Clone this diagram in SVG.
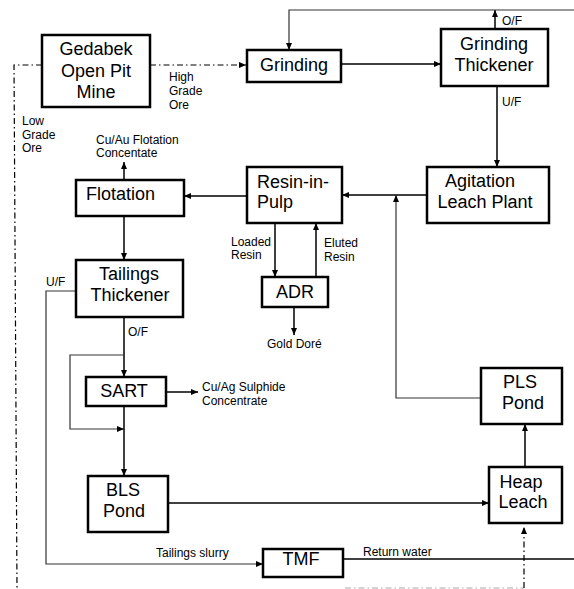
<svg xmlns="http://www.w3.org/2000/svg" width="574" height="589" viewBox="0 0 574 589">
<defs>
<marker id="arr" markerUnits="userSpaceOnUse" markerWidth="7" markerHeight="6" refX="7" refY="3" orient="auto">
<path d="M0,0 L7,3 L0,6 z" fill="#000"/>
</marker>
<style>
.box{fill:#fff;stroke:#000;stroke-width:2.5}
.big{font-family:"Liberation Sans",Arial,sans-serif;font-size:18px;fill:#000}
.sm{font-family:"Liberation Sans",Arial,sans-serif;font-size:12px;fill:#000}
.c{text-anchor:middle}
.ln{fill:none;stroke:#000;stroke-width:1.5}
.thin{fill:none;stroke:#333;stroke-width:1.2}
.dd{fill:none;stroke:#000;stroke-width:1.2;stroke-dasharray:6 3 1.5 3}
.ddl{fill:none;stroke:#aaa;stroke-width:1.2;stroke-dasharray:6 3 1.5 3}
</style>
</defs>
<rect width="574" height="589" fill="#fff"/>
<g id="connectors">
<polyline class="dd" points="42,65 14,65 17,589"/>
<line class="dd" x1="150" y1="65" x2="246" y2="65" marker-end="url(#arr)"/>
<line class="ln" x1="341" y1="64" x2="441" y2="64" marker-end="url(#arr)"/>
<line class="ln" x1="495" y1="29" x2="495" y2="10" marker-end="url(#arr)"/>
<polyline class="thin" points="574,10 289,10 289,50" marker-end="url(#arr)"/>
<line class="ln" x1="497" y1="86" x2="497" y2="167" marker-end="url(#arr)"/>
<line class="ln" x1="427" y1="195" x2="342" y2="195" marker-end="url(#arr)"/>
<polyline class="thin" points="481,398 396,398 396,195" marker-end="url(#arr)"/>
<line class="ln" x1="247" y1="196" x2="184" y2="196" marker-end="url(#arr)"/>
<line class="ln" x1="124" y1="180" x2="124" y2="162" marker-end="url(#arr)"/>
<line class="ln" x1="124" y1="216" x2="124" y2="260" marker-end="url(#arr)"/>
<line class="ln" x1="275" y1="223" x2="275" y2="277" marker-end="url(#arr)"/>
<line class="ln" x1="316" y1="277" x2="316" y2="223" marker-end="url(#arr)"/>
<line class="ln" x1="294" y1="307" x2="294" y2="335" marker-end="url(#arr)"/>
<line class="ln" x1="124" y1="317" x2="124" y2="377" marker-end="url(#arr)"/>
<polyline class="thin" points="124,355 70,355 70,429 124,429" marker-end="url(#arr)"/>
<line class="ln" x1="166" y1="392" x2="198" y2="392" marker-end="url(#arr)"/>
<line class="ln" x1="124" y1="406" x2="124" y2="476" marker-end="url(#arr)"/>
<line class="ln" x1="168" y1="503" x2="489" y2="503" marker-end="url(#arr)"/>
<line class="ln" x1="525" y1="467" x2="525" y2="424" marker-end="url(#arr)"/>
<polyline class="thin" points="76,291 46,291 46,564 263,564" marker-end="url(#arr)"/>
<line class="ln" x1="343" y1="559" x2="574" y2="559"/>
<line class="ddl" x1="345" y1="588" x2="524" y2="588"/>
<line class="dd" x1="524" y1="588" x2="524" y2="527" marker-end="url(#arr)"/>
</g>
<g id="gedabek"><rect class="box" x="42" y="35" width="108" height="72"/>
<text class="big c" x="96" y="55">Gedabek</text><text class="big c" x="96" y="77">Open Pit</text><text class="big c" x="96" y="98">Mine</text></g>
<g id="grinding"><rect class="box" x="247" y="50" width="94" height="32"/>
<text class="big c" x="294" y="71">Grinding</text></g>
<g id="grinding-thickener"><rect class="box" x="441" y="29" width="107" height="57"/>
<text class="big c" x="494" y="50">Grinding</text><text class="big c" x="494" y="71">Thickener</text></g>
<g id="agitation"><rect class="box" x="427" y="167" width="122" height="56"/>
<text class="big c" x="480" y="187">Agitation</text><text class="big c" x="485" y="208">Leach Plant</text></g>
<g id="rip"><rect class="box" x="247" y="167" width="95" height="56"/>
<text class="big" x="257" y="188">Resin-in-</text><text class="big" x="257" y="208">Pulp</text></g>
<g id="flotation"><rect class="box" x="76" y="180" width="108" height="36"/>
<text class="big" x="86" y="200">Flotation</text></g>
<g id="tailings-thickener"><rect class="box" x="76" y="260" width="107" height="57"/>
<text class="big c" x="129" y="280">Tailings</text><text class="big c" x="130" y="301">Thickener</text></g>
<g id="adr"><rect class="box" x="262" y="277" width="66" height="30"/>
<text class="big c" x="295" y="298">ADR</text></g>
<g id="sart"><rect class="box" x="86" y="377" width="80" height="29"/>
<text class="big c" x="124" y="397">SART</text></g>
<g id="bls"><rect class="box" x="88" y="476" width="80" height="56"/>
<text class="big c" x="123" y="496">BLS</text><text class="big c" x="124" y="517">Pond</text></g>
<g id="pls"><rect class="box" x="481" y="368" width="81" height="56"/>
<text class="big c" x="520" y="388">PLS</text><text class="big c" x="523" y="409">Pond</text></g>
<g id="heap"><rect class="box" x="489" y="467" width="73" height="56"/>
<text class="big c" x="521" y="488">Heap</text><text class="big c" x="523" y="508">Leach</text></g>
<g id="tmf"><rect class="box" x="263" y="549" width="80" height="28"/>
<text class="big c" x="301" y="565">TMF</text></g>
<g id="labels">
<text class="sm" x="502" y="25">O/F</text>
<text class="sm" x="502" y="106">U/F</text>
<text class="sm" x="169" y="81">High</text><text class="sm" x="169" y="95">Grade</text><text class="sm" x="169" y="109">Ore</text>
<text class="sm" x="22" y="125">Low</text><text class="sm" x="22" y="139">Grade</text><text class="sm" x="22" y="152">Ore</text>
<text class="sm" x="96" y="144">Cu/Au Flotation</text><text class="sm" x="96" y="157">Concentate</text>
<text class="sm" x="231" y="246">Loaded</text><text class="sm" x="231" y="259">Resin</text>
<text class="sm" x="324" y="247">Eluted</text><text class="sm" x="324" y="261">Resin</text>
<text class="sm" x="267" y="348">Gold Doré</text>
<text class="sm" x="46" y="286">U/F</text>
<text class="sm" x="128" y="336">O/F</text>
<text class="sm" x="202" y="391">Cu/Ag Sulphide</text><text class="sm" x="202" y="405">Concentrate</text>
<text class="sm" x="156" y="557">Tailings slurry</text>
<text class="sm" x="363" y="556">Return water</text>
</g>
</svg>
